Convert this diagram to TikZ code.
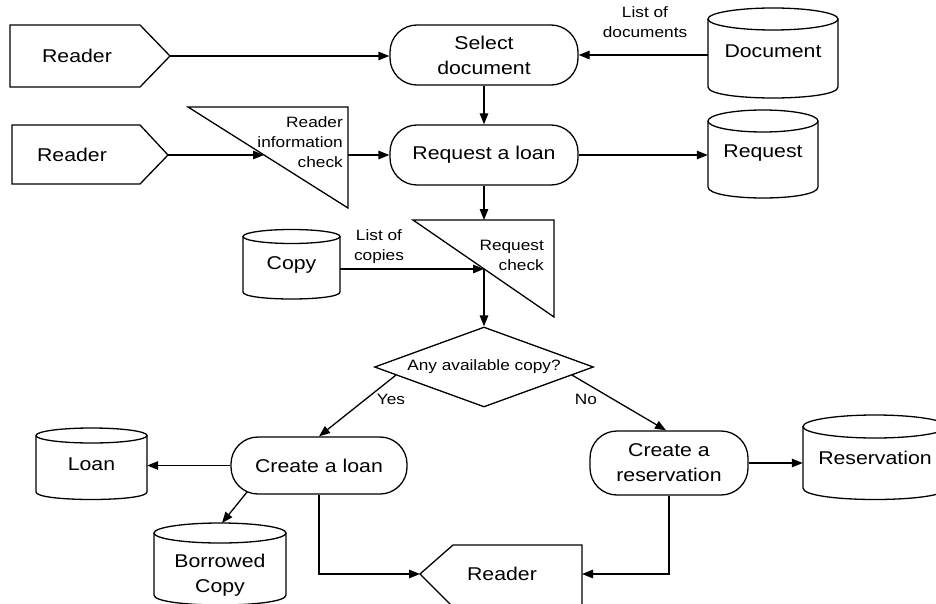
\documentclass[tikz,border=0pt]{standalone}
\usepackage{fontspec}
\setmainfont[FakeStretch=1.15]{Liberation Sans}
\usetikzlibrary{arrows.meta,shapes.geometric,calc}

\newcommand\bigtxt{\fontsize{18.5}{25}\selectfont}
\newcommand\smalltxt{\fontsize{15}{20}\selectfont}

\tikzset{
  line/.style={line width=1.3pt, line join=miter},
  flow/.style={line, -{Triangle[length=11pt,width=8.5pt]}},
  proc/.style={line, draw, rounded corners=27pt, inner sep=0pt, align=center, font=\bigtxt},
  store/.style={inner sep=0pt, align=center, font=\bigtxt},
  txt/.style={inner sep=0pt, align=center, font=\bigtxt},
  lbl/.style={inner sep=0pt, align=center, font=\smalltxt},
  decision/.style={line, draw, diamond, inner sep=0pt, aspect=2.74, font=\smalltxt}
}

% data store: name, x-left, x-right, top-ellipse centre y, ellipse radius y,
% y of lower side ends, text y, text
\newcommand\storecyl[8]{%
  \draw[line] ({(#2+#3)/2},#4) ellipse [x radius={(#3-#2)/2}, y radius=#5];
  \draw[line] (#2,#4) -- (#2,#6)
     .. controls (#2,{#6+1.333*#5}) and (#3,{#6+1.333*#5}) .. (#3,#6) -- (#3,#4);
  \coordinate (#1-top) at ({(#2+#3)/2},{#4-#5});
  \node[store, minimum width={(#3-#2)*1pt}] (#1) at ({(#2+#3)/2},#7) {#8};
}

\begin{document}
\begin{tikzpicture}[x=1pt, y=-1pt]
\useasboundingbox[fill=white] (0,0) rectangle (936,604);

% external entities (readers)
\draw[line] (10,25) -- (140,25) -- (170,56) -- (140,87) -- (10,87) -- cycle;
\coordinate (r1tip) at (170,56);
\node[txt] (r1) at (77,56) {Reader};

\draw[line] (12,125) -- (140,125) -- (168,155) -- (140,184) -- (12,184) -- cycle;
\coordinate (r2tip) at (168,155);
\node[txt] (r2) at (72,155) {Reader};

\draw[line] (582,608) -- (582,545) -- (453,545) -- (420,574) -- (454,608);
\coordinate (r3tip) at (420,574);
\coordinate (r3east) at (582,574);
\node[txt] (r3) at (502,574) {Reader};

% checks (manual operations)
\draw[line] (188,107) -- (348,107) -- (348,208) -- cycle;
\coordinate (t1in) at (264,155);
\coordinate (t1out) at (348,155);
\node[lbl, anchor=east, align=right] (t1) at (343,142) {Reader\\information\\check};

\draw[line] (413,220) -- (554,220) -- (554,317) -- cycle;
\coordinate (t2top) at (484,220);
\coordinate (t2in) at (484,269);
\node[lbl, anchor=east, align=right] (t2) at (544,255) {Request\\check};

% processes
\node[proc, minimum width=188pt, minimum height=60pt] (sel) at (484,55) {Select\\document};
\node[proc, minimum width=188pt, minimum height=60pt] (rl) at (484,155) {Request a loan};
\node[proc, minimum width=176pt, minimum height=57pt] (cl) at (319,465.5) {Create a loan};
\node[proc, minimum width=158pt, minimum height=64pt] (cr) at (669,463) {Create a\\reservation};

% decision
\node[decision, minimum width=219pt, minimum height=80pt] (dia) at (484,367) {Any available copy?};

% data stores
\storecyl{doc}{708}{838}{19}{11}{87}{51}{Document}
\storecyl{reqs}{708}{818}{121}{11}{187}{153}{Request}
\storecyl{copy}{243}{340}{236.5}{7}{292}{265}{Copy}
\storecyl{loan}{36}{147}{435.5}{7.5}{492}{464}{Loan}
\storecyl{bc}{154}{286}{533}{10}{595}{575}{Borrowed\\Copy}
\storecyl{resv}{803}{947}{426.5}{11.5}{488}{458}{Reservation}

% flows
\draw[flow] (r1tip) -- (r1tip -| sel.west);
\draw[flow] (sel.east -| doc.west) -- (sel.east);
\draw[flow] (sel.south) -- (rl.north);
\draw[flow] (r2tip) -- (t1in);
\draw[flow] (t1out) -- (rl.west);
\draw[flow] (rl.east) -- (rl.east -| reqs.west);
\draw[flow] (rl.south) -- (t2top);
\draw[flow] (t2in -| copy.east) -- (t2in);
\draw[flow] (t2in) -- (dia.north);
\draw[flow] ($(dia.west)!0.2!(dia.south)$) -- (cl.north);
\draw[flow] ($(dia.east)!0.2!(dia.south)$) -- ($(cr.north)+(-3,0)$);
\draw[flow] (cl.west) -- (cl.west -| loan.east);
\draw[flow] ($(cl.south west)+(17,-3)$) -- ($(bc-top)+(2,0)$);
\draw[flow] (cl.south) |- (r3tip);
\draw[flow] (cr.south) |- (r3east);
\draw[flow] (cr.east) -- (cr.east -| resv.west);

% flow labels
\node[lbl] (ldoc) at (645,22) {List of\\documents};
\node[lbl] (lcopy) at (379,247) {List of\\copies};
\node[lbl] (lyes) at (391,399) {Yes};
\node[lbl] (lno) at (586,399) {No};
\end{tikzpicture}
\end{document}
